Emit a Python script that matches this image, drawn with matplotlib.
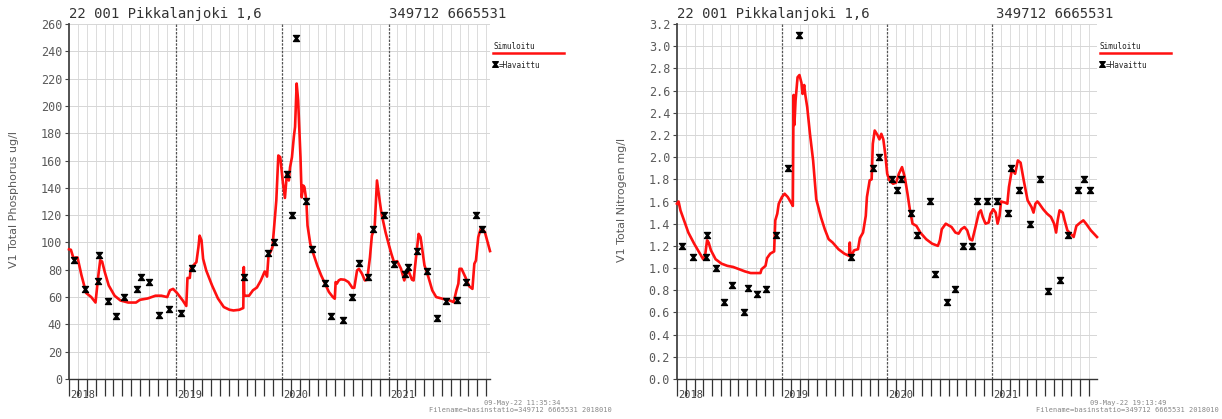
import matplotlib
matplotlib.use("Agg")
import matplotlib.pyplot as plt
from matplotlib.path import Path
from matplotlib.lines import Line2D

W, H = 1222, 419

# -------------------------
# Data (decimal years)
# -------------------------
tp_sim_t = [2018.000, 2018.018, 2018.044, 2018.062, 2018.080, 2018.117, 2018.161, 2018.209, 2018.249, 2018.274,
            2018.293, 2018.311, 2018.337, 2018.373, 2018.428, 2018.483, 2018.556, 2018.629, 2018.666, 2018.739,
            2018.812, 2018.867, 2018.922, 2018.948, 2018.977, 2019.014, 2019.068, 2019.101, 2019.112, 2019.134,
            2019.142, 2019.178, 2019.196, 2019.215, 2019.226, 2019.244, 2019.259, 2019.288, 2019.343, 2019.398,
            2019.453, 2019.507, 2019.544, 2019.599, 2019.636, 2019.641, 2019.645, 2019.654, 2019.690, 2019.727,
            2019.764, 2019.800, 2019.837, 2019.859, 2019.873, 2019.892, 2019.910, 2019.928, 2019.946, 2019.965,
            2019.983, 2020.009, 2020.027, 2020.045, 2020.064, 2020.075, 2020.093, 2020.111, 2020.122, 2020.137,
            2020.151, 2020.173, 2020.184, 2020.199, 2020.210, 2020.228, 2020.239, 2020.265, 2020.294, 2020.331,
            2020.367, 2020.404, 2020.440, 2020.477, 2020.495, 2020.503, 2020.514, 2020.532, 2020.550, 2020.587,
            2020.623, 2020.660, 2020.678, 2020.704, 2020.722, 2020.751, 2020.777, 2020.799, 2020.825, 2020.843,
            2020.869, 2020.891, 2020.916, 2020.934, 2020.971, 2021.000, 2021.026, 2021.051, 2021.081, 2021.117,
            2021.147, 2021.169, 2021.191, 2021.220, 2021.235, 2021.256, 2021.282, 2021.300, 2021.337, 2021.374,
            2021.410, 2021.447, 2021.520, 2021.575, 2021.611, 2021.622, 2021.637, 2021.655, 2021.666, 2021.685,
            2021.721, 2021.758, 2021.787, 2021.805, 2021.820, 2021.842, 2021.868, 2021.904, 2021.952]
tp_sim = [95, 94.6, 88, 89, 89, 76, 63, 60, 56, 75,
          87, 86, 78, 68.5, 61, 57.5, 56, 56, 58, 59,
          61, 61, 60, 65, 66, 63, 57.5, 53.5, 74, 74,
          81, 84, 85.6, 96.6, 105, 101.5, 88, 79.5, 68.5, 59,
          52.7, 50.7, 50.2, 50.7, 52, 82, 62, 61, 61, 65,
          67, 72, 78.8, 75, 90.5, 93, 96.6, 113.7, 130.7, 163.7,
          162.5, 143, 132.6, 150.3, 145.4, 155, 162.5, 177.7, 184.6, 216.4,
          204, 162.5, 133, 141.7, 140.5, 130.7, 112.4, 99, 91.7, 83,
          75.9, 69.8, 63.7, 60, 58.8, 71, 69.8, 72.2, 73, 72.7,
          71, 66.8, 66.8, 79.5, 80.7, 77, 72.2, 72.7, 89, 105,
          111, 145.4, 130.7, 121, 107.6, 99, 91.7, 85.6, 86.3, 80.7,
          72.2, 77.6, 78.3, 72.7, 72.2, 88, 106.3, 103.9, 83.2, 74.6,
          64.9, 60, 58.5, 57.5, 56.3, 60, 65, 69.8, 80.7, 80.7,
          74.6, 67.8, 66, 84.4, 86.8, 103.9, 111, 107.6, 93.7]

tp_obs_t = [2018.044, 2018.154, 2018.274, 2018.285, 2018.366, 2018.439, 2018.512, 2018.637, 2018.673, 2018.754,
            2018.845, 2018.937, 2019.054, 2019.153, 2019.647, 2019.866, 2019.921, 2020.049, 2020.089, 2020.130,
            2020.228, 2020.280, 2020.404, 2020.455, 2020.572, 2020.653, 2020.726, 2020.806, 2020.858, 2020.956,
            2021.052, 2021.154, 2021.183, 2021.264, 2021.359, 2021.458, 2021.538, 2021.644, 2021.725, 2021.820,
            2021.879]
tp_obs = [87, 66, 72, 91, 57, 46, 60, 66, 75, 71,
          47, 51, 48, 81, 75, 92, 100, 150, 120, 250,
          130, 95, 70, 46, 43, 60, 85, 75, 110, 120,
          84, 77, 82, 94, 79, 45, 57, 58, 71, 120,
          110]

tn_sim_t = [2018.000, 2018.015, 2018.033, 2018.063, 2018.108, 2018.163, 2018.219, 2018.249, 2018.267, 2018.286,
            2018.301, 2018.323, 2018.367, 2018.423, 2018.479, 2018.534, 2018.590, 2018.646, 2018.701, 2018.794,
            2018.805, 2018.842, 2018.857, 2018.887, 2018.924, 2018.935, 2018.954, 2018.968, 2018.998, 2019.024,
            2019.054, 2019.091, 2019.102, 2019.109, 2019.117, 2019.128, 2019.147, 2019.165, 2019.184, 2019.195,
            2019.210, 2019.221, 2019.239, 2019.265, 2019.295, 2019.325, 2019.369, 2019.406, 2019.443, 2019.481,
            2019.536, 2019.592, 2019.636, 2019.644, 2019.651, 2019.685, 2019.722, 2019.740, 2019.770, 2019.796,
            2019.807, 2019.833, 2019.852, 2019.863, 2019.881, 2019.907, 2019.926, 2019.944, 2019.963, 2019.981,
            2020.000, 2020.022, 2020.056, 2020.085, 2020.111, 2020.141, 2020.167, 2020.193, 2020.215, 2020.241,
            2020.278, 2020.315, 2020.371, 2020.427, 2020.482, 2020.501, 2020.519, 2020.557, 2020.612, 2020.649,
            2020.679, 2020.705, 2020.735, 2020.761, 2020.787, 2020.809, 2020.835, 2020.872, 2020.891, 2020.909,
            2020.935, 2020.965, 2020.983, 2021.009, 2021.032, 2021.050, 2021.069, 2021.083, 2021.121, 2021.143,
            2021.158, 2021.187, 2021.217, 2021.243, 2021.269, 2021.299, 2021.336, 2021.373, 2021.392, 2021.410,
            2021.429, 2021.447, 2021.484, 2021.521, 2021.558, 2021.588, 2021.607, 2021.622, 2021.640, 2021.670,
            2021.688, 2021.714, 2021.744, 2021.774, 2021.800, 2021.837, 2021.866, 2021.892, 2021.937, 2021.967,
            2021.996]
tn_sim = [1.58, 1.60, 1.52, 1.44, 1.32, 1.22, 1.13, 1.08, 1.11, 1.25,
          1.23, 1.16, 1.08, 1.04, 1.02, 1.01, 0.99, 0.97, 0.955, 0.955,
          0.99, 1.02, 1.09, 1.13, 1.15, 1.43, 1.49, 1.58, 1.64, 1.67,
          1.64, 1.58, 1.56, 2.56, 2.29, 2.51, 2.72, 2.74, 2.67, 2.57,
          2.65, 2.56, 2.45, 2.21, 1.97, 1.62, 1.46, 1.35, 1.26, 1.23,
          1.17, 1.13, 1.11, 1.23, 1.10, 1.16, 1.17, 1.27, 1.32, 1.47,
          1.64, 1.79, 1.80, 2.12, 2.24, 2.20, 2.16, 2.21, 2.16, 2.03,
          1.85, 1.79, 1.76, 1.77, 1.85, 1.91, 1.82, 1.67, 1.53, 1.40,
          1.38, 1.32, 1.26, 1.22, 1.20, 1.25, 1.35, 1.40, 1.37, 1.32,
          1.31, 1.35, 1.37, 1.34, 1.26, 1.25, 1.35, 1.50, 1.52, 1.46,
          1.40, 1.41, 1.49, 1.53, 1.50, 1.40, 1.47, 1.60, 1.59, 1.58,
          1.73, 1.89, 1.85, 1.97, 1.95, 1.79, 1.61, 1.55, 1.50, 1.58,
          1.60, 1.58, 1.53, 1.49, 1.46, 1.40, 1.32, 1.43, 1.52, 1.50,
          1.43, 1.34, 1.31, 1.28, 1.38, 1.41, 1.43, 1.40, 1.34, 1.31,
          1.28]

tn_obs_t = [2018.048, 2018.156, 2018.278, 2018.286, 2018.367, 2018.445, 2018.519, 2018.642, 2018.675, 2018.757,
            2018.850, 2018.943, 2019.058, 2019.158, 2019.651, 2019.866, 2019.922, 2020.045, 2020.089, 2020.134,
            2020.223, 2020.282, 2020.404, 2020.453, 2020.571, 2020.649, 2020.724, 2020.805, 2020.857, 2020.950,
            2021.046, 2021.146, 2021.180, 2021.258, 2021.354, 2021.451, 2021.532, 2021.640, 2021.718, 2021.814,
            2021.870, 2021.933]
tn_obs = [1.2, 1.1, 1.1, 1.3, 1.0, 0.69, 0.85, 0.6, 0.82, 0.77,
          0.81, 1.3, 1.9, 3.1, 1.1, 1.9, 2.0, 1.8, 1.7, 1.8,
          1.5, 1.3, 1.6, 0.95, 0.69, 0.81, 1.2, 1.2, 1.6, 1.6,
          1.6, 1.5, 1.9, 1.7, 1.4, 1.8, 0.79, 0.89, 1.3, 1.7,
          1.8, 1.7]

years = [2018, 2019, 2020, 2021]
station = "22 001 Pikkalanjoki 1,6"
coords = "349712 6665531"

# hourglass marker with bars, like the plotter symbol
hourglass = Path([(-1, 1), (1, 1), (0.2, 0), (1, -1), (-1, -1), (-0.2, 0), (-1, 1)],
                 [Path.MOVETO] + [Path.LINETO] * 5 + [Path.CLOSEPOLY])

MONO = "DejaVu Sans Mono"


def fx(x):
    return x / W


def fy(y):
    return 1 - y / H


def draw_panel(fig, left_px, right_px, t_sim, v_sim, t_obs, v_obs, ymax, ystep, yfmt, ylabel,
               t_end, stamp):
    ax = fig.add_axes([fx(left_px), fy(379), fx(right_px - left_px), (379 - 24) / H])
    ax.set_xlim(2018, t_end)
    ax.set_ylim(0, ymax)

    # monthly grid and ticks
    months = [y + m / 12 for y in years for m in range(12) if y + m / 12 <= t_end]
    ax.set_xticks(months)
    ax.set_xticklabels([])
    ax.tick_params(axis="x", direction="out", length=12, width=0.9, color="#333333")
    for m in months:
        if m in years:
            continue
        ax.axvline(m, color="#dcdcdc", lw=0.7, zorder=0)
    ax.axvline(t_end, color="#dcdcdc", lw=0.7, zorder=0)
    for y in years[1:]:
        ax.axvline(y, color="#555555", lw=0.9, ls=(0, (2, 1)), zorder=1)

    yt = [i * ystep for i in range(int(round(ymax / ystep)) + 1)]
    ax.set_yticks(yt)
    ax.set_yticklabels([yfmt.format(v) for v in yt], fontfamily=MONO, fontsize=8.5, color="#5a5a5a")
    ax.tick_params(axis="y", direction="out", length=3, width=0.8, color="#444444", pad=2)
    for v in yt[1:]:
        ax.axhline(v, color="#d6d6d6", lw=0.7, zorder=0)

    for s in ["top", "right"]:
        ax.spines[s].set_visible(False)
    ax.spines["left"].set_color("#444444")
    ax.spines["left"].set_linewidth(1.3)
    ax.spines["bottom"].set_color("#333333")
    ax.spines["bottom"].set_linewidth(1.0)

    for y in years:
        ax.annotate(str(y), xy=(y, 0), xycoords=("data", "axes fraction"),
                    xytext=(1, -11.5), textcoords="offset points",
                    fontfamily=MONO, fontsize=7.5, color="#444444", va="center", ha="left")

    ax.plot(t_sim, v_sim, color="#ff1010", lw=1.9, zorder=3, clip_on=False)
    ax.plot(t_obs, v_obs, ls="none", marker=hourglass, ms=4.3, color="black", zorder=4, clip_on=False)

    # headings above the plot
    fig.text(fx(left_px), fy(14), station, fontfamily=MONO, fontsize=10, color="#333333",
             ha="left", va="center")
    fig.text(fx(right_px + 16), fy(14), coords, fontfamily=MONO, fontsize=10, color="#333333",
             ha="right", va="center")

    fig.text(fx(left_px - 55), fy(200), ylabel, fontsize=8, color="#5a5a5a",
             rotation=90, ha="center", va="center")

    # key on the right
    lx = right_px + 3
    fig.text(fx(lx), fy(46), "Simuloitu", fontfamily=MONO, fontsize=5.5, color="#222222",
             ha="left", va="center")
    fig.add_artist(Line2D([fx(lx), fx(lx + 71)], [fy(53), fy(53)], color="#ff1010", lw=1.8))
    fig.add_artist(Line2D([fx(lx + 2)], [fy(64)], ls="none", marker=hourglass, ms=4, color="black"))
    fig.text(fx(lx + 6), fy(65), "=Havaittu", fontfamily=MONO, fontsize=5.5, color="#222222",
             ha="left", va="center")

    # plot stamp at the bottom
    fig.text(fx(right_px + 70), fy(403), stamp, fontfamily=MONO, fontsize=5, color="#888888",
             ha="right", va="center")
    fig.text(fx(right_px + 122), fy(410), "Filename=basinstatio=349712 6665531 2018010",
             fontfamily=MONO, fontsize=5, color="#888888", ha="right", va="center")
    return ax


fig = plt.figure(figsize=(W / 100, H / 100), dpi=100)
fig.patch.set_facecolor("white")

draw_panel(fig, 69, 490, tp_sim_t, tp_sim, tp_obs_t, tp_obs, 260, 20, "{:.0f}",
           "V1 Total Phosphorus ug/l", 2021.952, "09-May-22 11:35:34")
draw_panel(fig, 677, 1097, tn_sim_t, tn_sim, tn_obs_t, tn_obs, 3.2, 0.2, "{:.1f}",
           "V1 Total Nitrogen mg/l", 2021.996, "09-May-22 19:13:49")

fig.savefig("out.png", dpi=100)
